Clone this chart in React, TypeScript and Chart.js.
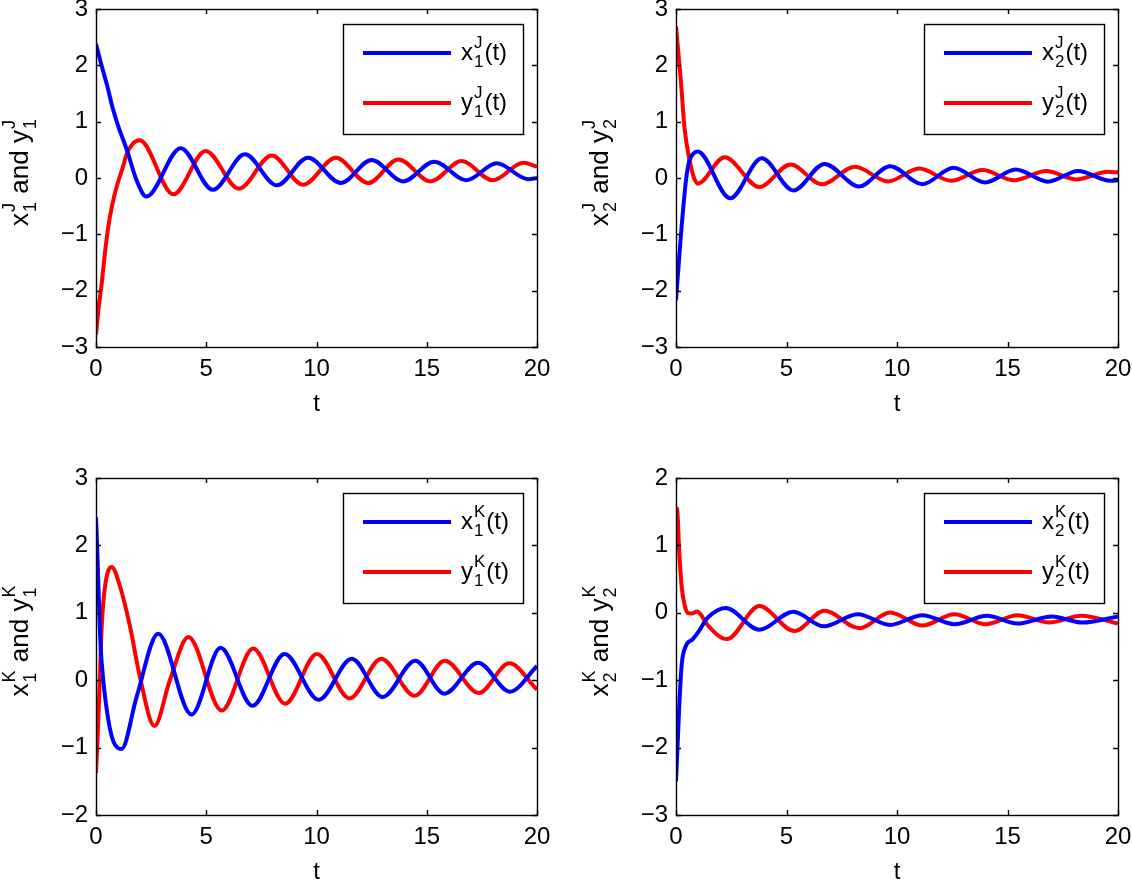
import React, { useEffect, useRef } from "react";
import { Chart, registerables } from "chart.js";

Chart.register(...registerables);

const FONT = '"Liberation Sans", Arial, Helvetica, sans-serif';
const BLUE = "#0000ff";
const RED = "#ff0000";

// ---- Top-left: x1^J, y1^J ----
const tX1J = [0, 0.25, 0.5, 0.75, 1.0, 1.4, 1.85, 2.28, 3.84, 5.3, 6.75, 8.2, 9.62, 11.1, 12.5, 13.93, 15.34, 16.8, 18.17, 19.6, 20];
const x1J = [2.38, 2.0, 1.65, 1.25, 0.93, 0.5, -0.05, -0.33, 0.53, -0.21, 0.42, -0.13, 0.36, -0.09, 0.32, -0.06, 0.29, -0.04, 0.26, -0.02, 0.0];
const tY1J = [0, 0.12, 0.26, 0.4, 0.56, 0.75, 0.94, 1.2, 1.39, 1.65, 1.98, 3.51, 4.97, 6.48, 7.97, 9.39, 10.88, 12.34, 13.72, 15.17, 16.58, 18.0, 19.38, 20];
const y1J = [-2.78, -2.3, -1.87, -1.35, -0.86, -0.45, -0.15, 0.17, 0.42, 0.6, 0.67, -0.29, 0.48, -0.19, 0.4, -0.12, 0.36, -0.09, 0.33, -0.06, 0.3, -0.04, 0.27, 0.2];

// ---- Top-right: x2^J, y2^J ----
const tX2J = [0, 0.23, 0.45, 0.6, 0.78, 0.98, 2.45, 3.88, 5.31, 6.72, 8.28, 9.69, 11.15, 12.56, 13.99, 15.37, 16.83, 18.2, 19.65, 20];
const x2J = [-2.17, -0.98, -0.05, 0.3, 0.43, 0.47, -0.36, 0.35, -0.22, 0.25, -0.15, 0.21, -0.11, 0.18, -0.08, 0.15, -0.065, 0.125, -0.05, -0.04];
const tY2J = [0, 0.23, 0.38, 0.61, 0.8, 0.98, 2.2, 3.77, 5.18, 6.6, 8.1, 9.6, 11.0, 12.45, 13.86, 15.3, 16.75, 18.1, 19.55, 20];
const y2J = [2.69, 1.68, 0.91, 0.32, 0.02, -0.1, 0.37, -0.16, 0.24, -0.11, 0.2, -0.06, 0.17, -0.05, 0.14, -0.04, 0.125, -0.025, 0.11, 0.1];

// ---- Bottom-left: x1^K, y1^K ----
const tX1K = [0, 0.06, 0.12, 0.21, 0.33, 0.56, 0.79, 1.16, 1.84, 2.82, 4.33, 5.65, 7.1, 8.55, 10.1, 11.6, 13.0, 14.48, 15.8, 17.33, 18.77, 20];
const x1K = [2.42, 1.9, 1.29, 0.5, 0.0, -0.59, -0.91, -1.02, -0.25, 0.69, -0.51, 0.48, -0.38, 0.39, -0.29, 0.32, -0.25, 0.29, -0.2, 0.26, -0.17, 0.21];
const tY1K = [0, 0.08, 0.15, 0.26, 0.41, 0.71, 1.09, 1.54, 1.99, 2.65, 3.35, 4.19, 5.7, 7.13, 8.58, 10.02, 11.5, 12.94, 14.45, 15.82, 17.36, 18.74, 20];
const y1K = [-1.38, -0.8, -0.19, 0.8, 1.39, 1.68, 1.39, 0.8, 0.05, -0.68, 0.0, 0.64, -0.45, 0.47, -0.35, 0.39, -0.27, 0.32, -0.23, 0.29, -0.19, 0.25, -0.14];

// ---- Bottom-right: x2^K, y2^K ----
const tX2K = [0, 0.08, 0.15, 0.26, 0.45, 0.76, 1.06, 1.3, 1.44, 2.25, 3.77, 5.31, 6.69, 8.23, 9.69, 11.15, 12.6, 14.07, 15.45, 17.0, 18.38, 20];
const x2K = [-2.5, -1.9, -1.36, -0.76, -0.49, -0.39, -0.26, -0.13, -0.07, 0.07, -0.25, 0.015, -0.2, -0.02, -0.18, -0.035, -0.17, -0.045, -0.16, -0.055, -0.145, -0.055];
const tY2K = [0, 0.05, 0.15, 0.26, 0.38, 0.53, 0.75, 0.95, 1.15, 1.3, 1.45, 2.3, 3.77, 5.36, 6.72, 8.3, 9.69, 11.15, 12.6, 14.02, 15.45, 16.9, 18.34, 20];
const y2K = [1.55, 1.54, 0.88, 0.38, 0.13, 0.0, -0.01, 0.02, -0.04, -0.12, -0.19, -0.39, 0.1, -0.27, 0.03, -0.23, 0.005, -0.19, -0.02, -0.17, -0.035, -0.145, -0.045, -0.16];

const xTicks = { min: 0, max: 20, step: 5 };

type Part = { base: string; sub?: string; sup?: string };

type PanelCfg = {
  id: string;
  cx: number; cy: number; cw: number; ch: number;
  L: number; T: number; R: number; B: number;
  ymin: number; ymax: number;
  series: { t: number[]; v: number[]; color: string; label: Part[] }[];
  ylabel: Part[];
};

const PANELS: PanelCfg[] = [
  {
    id: "tl", cx: 0, cy: 0, cw: 566, ch: 440, L: 96, T: 9, R: 537, B: 347, ymin: -3, ymax: 3,
    series: [
      { t: tX1J, v: x1J, color: BLUE, label: [{ base: "x", sub: "1", sup: "J" }, { base: "(t)" }] },
      { t: tY1J, v: y1J, color: RED, label: [{ base: "y", sub: "1", sup: "J" }, { base: "(t)" }] },
    ],
    ylabel: [{ base: "x", sub: "1", sup: "J" }, { base: " and y", sub: "1", sup: "J" }],
  },
  {
    id: "tr", cx: 566, cy: 0, cw: 566, ch: 440, L: 676, T: 9, R: 1118, B: 347, ymin: -3, ymax: 3,
    series: [
      { t: tX2J, v: x2J, color: BLUE, label: [{ base: "x", sub: "2", sup: "J" }, { base: "(t)" }] },
      { t: tY2J, v: y2J, color: RED, label: [{ base: "y", sub: "2", sup: "J" }, { base: "(t)" }] },
    ],
    ylabel: [{ base: "x", sub: "2", sup: "J" }, { base: " and y", sub: "2", sup: "J" }],
  },
  {
    id: "bl", cx: 0, cy: 440, cw: 566, ch: 450, L: 96, T: 478, R: 537, B: 815, ymin: -2, ymax: 3,
    series: [
      { t: tX1K, v: x1K, color: BLUE, label: [{ base: "x", sub: "1", sup: "K" }, { base: "(t)" }] },
      { t: tY1K, v: y1K, color: RED, label: [{ base: "y", sub: "1", sup: "K" }, { base: "(t)" }] },
    ],
    ylabel: [{ base: "x", sub: "1", sup: "K" }, { base: " and y", sub: "1", sup: "K" }],
  },
  {
    id: "br", cx: 566, cy: 440, cw: 566, ch: 450, L: 676, T: 478, R: 1118, B: 815, ymin: -3, ymax: 2,
    series: [
      { t: tX2K, v: x2K, color: BLUE, label: [{ base: "x", sub: "2", sup: "K" }, { base: "(t)" }] },
      { t: tY2K, v: y2K, color: RED, label: [{ base: "y", sub: "2", sup: "K" }, { base: "(t)" }] },
    ],
    ylabel: [{ base: "x", sub: "2", sup: "K" }, { base: " and y", sub: "2", sup: "K" }],
  },
];

const TICK = 24;
const LEG = { main: 24, script: 17, sub: 7, sup: 12 };
const YLAB = { main: 26, script: 18, sub: 8, sup: 13 };

type Sz = { main: number; script: number; sub: number; sup: number };

function partsWidth(ctx: CanvasRenderingContext2D, parts: Part[], sz: Sz) {
  let w = 0;
  for (const p of parts) {
    ctx.font = `${sz.main}px ${FONT}`;
    w += ctx.measureText(p.base).width;
    ctx.font = `${sz.script}px ${FONT}`;
    const sw = Math.max(p.sub ? ctx.measureText(p.sub).width : 0, p.sup ? ctx.measureText(p.sup).width : 0);
    if (sw > 0) w += sw + 2;
  }
  return w;
}

function drawParts(ctx: CanvasRenderingContext2D, parts: Part[], x: number, y: number, sz: Sz) {
  let cx = x;
  ctx.textBaseline = "alphabetic";
  ctx.textAlign = "left";
  for (const p of parts) {
    ctx.font = `${sz.main}px ${FONT}`;
    ctx.fillText(p.base, cx, y);
    cx += ctx.measureText(p.base).width;
    ctx.font = `${sz.script}px ${FONT}`;
    let sw = 0;
    if (p.sub) {
      ctx.fillText(p.sub, cx + 1, y + sz.sub);
      sw = Math.max(sw, ctx.measureText(p.sub).width);
    }
    if (p.sup) {
      ctx.fillText(p.sup, cx + 1, y - sz.sup);
      sw = Math.max(sw, ctx.measureText(p.sup).width);
    }
    if (sw > 0) cx += sw + 2;
  }
}

function makeDecor(cfg: PanelCfg) {
  return {
    id: "matlabDecor_" + cfg.id,
    afterDraw(chart: any) {
      const ctx: CanvasRenderingContext2D = chart.ctx;
      const a = chart.chartArea;
      const sx = chart.scales.x;
      const sy = chart.scales.y;
      ctx.save();
      // axes box
      ctx.strokeStyle = "#000";
      ctx.lineWidth = 1.4;
      ctx.strokeRect(a.left + 0.5, a.top + 0.5, a.right - a.left, a.bottom - a.top);
      // inward ticks on all four sides
      ctx.beginPath();
      const TL = 5;
      for (const t of sx.ticks) {
        const px = Math.round(sx.getPixelForValue(t.value)) + 0.5;
        ctx.moveTo(px, a.bottom);
        ctx.lineTo(px, a.bottom - TL);
        ctx.moveTo(px, a.top);
        ctx.lineTo(px, a.top + TL);
      }
      for (const t of sy.ticks) {
        const py = Math.round(sy.getPixelForValue(t.value)) + 0.5;
        ctx.moveTo(a.left, py);
        ctx.lineTo(a.left + TL, py);
        ctx.moveTo(a.right, py);
        ctx.lineTo(a.right - TL, py);
      }
      ctx.stroke();

      // y label (rotated, with sub/superscripts)
      ctx.fillStyle = "#000";
      const w = partsWidth(ctx, cfg.ylabel, YLAB);
      ctx.save();
      ctx.translate(a.left - 68, (a.top + a.bottom) / 2 - 6);
      ctx.rotate(-Math.PI / 2);
      drawParts(ctx, cfg.ylabel, -w / 2, 0, YLAB);
      ctx.restore();

      // legend box
      const lw = 180, lh = 110;
      const lx = a.right - 14 - lw;
      const ly = a.top + 15;
      ctx.fillStyle = "#fff";
      ctx.fillRect(lx, ly, lw, lh);
      ctx.strokeStyle = "#000";
      ctx.lineWidth = 1.4;
      ctx.strokeRect(lx + 0.5, ly + 0.5, lw, lh);
      chart.data.datasets.forEach((ds: any, i: number) => {
        const ry = ly + 29 + i * 50;
        ctx.beginPath();
        ctx.strokeStyle = ds.borderColor;
        ctx.lineWidth = 4;
        ctx.moveTo(lx + 20, ry);
        ctx.lineTo(lx + 108, ry);
        ctx.stroke();
        ctx.fillStyle = "#000";
        drawParts(ctx, cfg.series[i].label, lx + 118, ry + 7, LEG);
      });
      ctx.restore();
    },
  };
}

function Panel({ cfg }: { cfg: PanelCfg }) {
  const ref = useRef<HTMLCanvasElement | null>(null);
  useEffect(() => {
    if (!ref.current) return;
    const l = cfg.L - cfg.cx;
    const t = cfg.T - cfg.cy;
    const r = cfg.R - cfg.cx;
    const b = cfg.B - cfg.cy;
    const XH = 70;
    const tickFont = { family: FONT, size: TICK };
    const chart = new Chart(ref.current, {
      type: "line",
      data: {
        datasets: cfg.series.map((s) => ({
          label: s.label.map((p) => p.base + (p.sub ? "_" + p.sub : "") + (p.sup ? "^" + p.sup : "")).join(""),
          data: s.t.map((tt, i) => ({ x: tt, y: s.v[i] })),
          borderColor: s.color,
          backgroundColor: s.color,
          borderWidth: 4,
          pointRadius: 0,
          fill: false,
          cubicInterpolationMode: "monotone" as const,
        })),
      },
      options: {
        responsive: false,
        animation: false,
        devicePixelRatio: 1,
        layout: { padding: { left: 0, top: t, right: cfg.cw - r, bottom: cfg.ch - b - XH } },
        plugins: { legend: { display: false }, tooltip: { enabled: false } },
        scales: {
          x: {
            type: "linear",
            min: xTicks.min,
            max: xTicks.max,
            ticks: { stepSize: xTicks.step, font: tickFont, color: "#000", padding: 8, maxRotation: 0, autoSkip: false },
            grid: { display: false, drawTicks: false },
            border: { display: false },
            title: { display: true, text: "t", color: "#000", font: { family: FONT, size: TICK, lineHeight: 1 }, padding: { top: 0, bottom: 1 } },
            afterFit: (s: any) => {
              s.height = XH;
              s.paddingLeft = 0;
              s.paddingRight = 0;
            },
          },
          y: {
            type: "linear",
            min: cfg.ymin,
            max: cfg.ymax,
            ticks: {
              stepSize: 1,
              font: tickFont,
              color: "#000",
              padding: 8,
              callback: (v: any) => String(v).replace("-", "\u2212"),
            },
            grid: { display: false, drawTicks: false },
            border: { display: false },
            afterFit: (s: any) => {
              s.width = l;
              s.paddingTop = 0;
              s.paddingBottom = 0;
            },
          },
        },
      } as any,
      plugins: [makeDecor(cfg)],
    });
    return () => chart.destroy();
  }, [cfg]);
  return (
    <canvas
      ref={ref}
      width={cfg.cw}
      height={cfg.ch}
      style={{ position: "absolute", left: cfg.cx, top: cfg.cy, width: cfg.cw, height: cfg.ch }}
    />
  );
}

export default function App() {
  return (
    <div style={{ position: "fixed", left: 0, top: 0, width: 1132, height: 881, overflow: "hidden", background: "#fff" }}>
      {PANELS.map((p) => (
        <Panel key={p.id} cfg={p} />
      ))}
    </div>
  );
}
